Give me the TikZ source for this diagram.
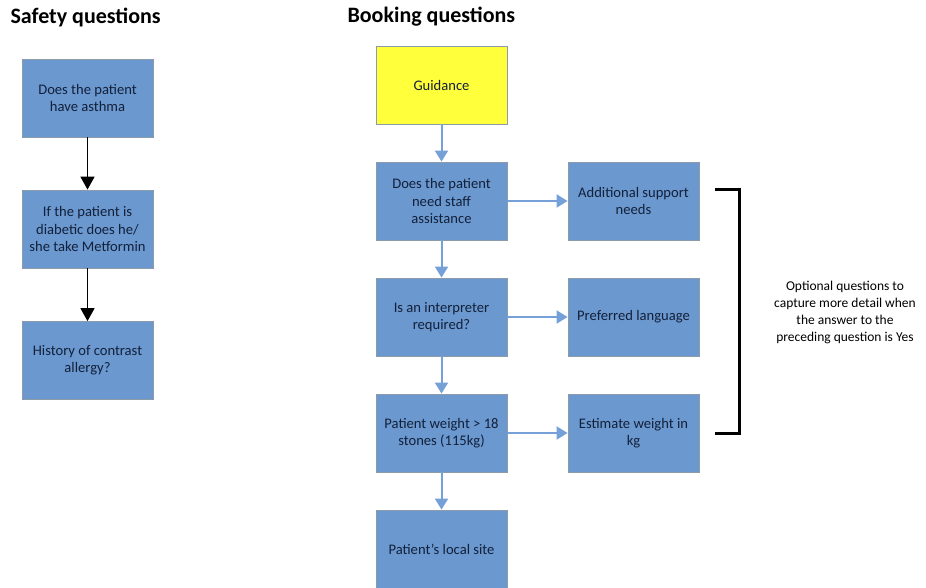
\documentclass[tikz,border=0pt]{standalone}
\usepackage{fontspec}
\setmainfont{Carlito}
\usetikzlibrary{arrows.meta}
\definecolor{boxblue}{HTML}{6A98CF}
\definecolor{boxline}{HTML}{8C9BAA}
\definecolor{guideyel}{HTML}{FFFF3C}
\definecolor{arrblue}{HTML}{76A1D8}
\definecolor{txtcol}{HTML}{13203A}
\tikzstyle{question}=[rectangle, draw=boxline, line width=0.8pt, fill=boxblue, minimum width=131pt, minimum height=78pt, inner sep=2pt, align=center, font=\fontsize{14.6}{17.2}\selectfont, text=txtcol]
\tikzstyle{guide}=[question, fill=guideyel]
\tikzstyle{flow}=[line width=1.6pt, -{Triangle[width=14pt,length=13pt]}]
\tikzstyle{link}=[line width=2pt, arrblue, -{Triangle[width=13pt,length=11pt]}]
\tikzstyle{heading}=[anchor=west, font=\bfseries\fontsize{22}{24}\selectfont]

\begin{document}
\begin{tikzpicture}[x=1pt, y=-1pt]
			\useasboundingbox (0,0) rectangle (926,587);

			\node[heading] (safetitle) at (7, 17) {Safety questions};
			\node[heading] (booktitle) at (344, 17) {Booking questions};

			% Safety questions
			\node[question] (asthma) at (87.5, 98) {Does the patient\\have asthma};
			\node[question] (metformin) at (87.5, 229) {If the patient is\\diabetic does he/\\she take Metformin};
			\node[question] (allergy) at (87.5, 360.5) {History of contrast\\allergy?};
			\draw[flow] (asthma)--(metformin);
			\draw[flow] (metformin)--(allergy);

			% Booking questions
			\node[guide] (guidance) at (441.5, 85) {Guidance};
			\node[question] (staff) at (441.5, 201) {Does the patient\\need staff\\assistance};
			\node[question] (interp) at (441.5, 317) {Is an interpreter\\required?};
			\node[question] (weight) at (441.5, 433) {Patient weight > 18\\stones (115kg)};
			\node[question] (site) at (441.5, 549) {Patient’s local site};

			\node[question] (support) at (633.5, 201) {Additional support\\needs};
			\node[question] (language) at (633.5, 317) {Preferred language};
			\node[question] (estimate) at (633.5, 433) {Estimate weight in\\kg};

			% Down
			\draw[link] (guidance)--(staff);
			\draw[link] (staff)--(interp);
			\draw[link] (interp)--(weight);
			\draw[link] (weight)--(site);
			% Across
			\draw[link] (staff)--(support);
			\draw[link] (interp)--(language);
			\draw[link] (weight)--(estimate);

			% Bracket
			\coordinate (brtop) at (715, 189);
			\coordinate (brbot) at (715, 433);
			\draw[line width=3pt] (brtop) -| (739, 433) -- (brbot);
			\node[align=center, font=\fontsize{13.5}{17}\selectfont] (optional) at (845, 312) {Optional questions to\\capture more detail when\\the answer to the\\preceding question is Yes};
		\end{tikzpicture}
\end{document}
